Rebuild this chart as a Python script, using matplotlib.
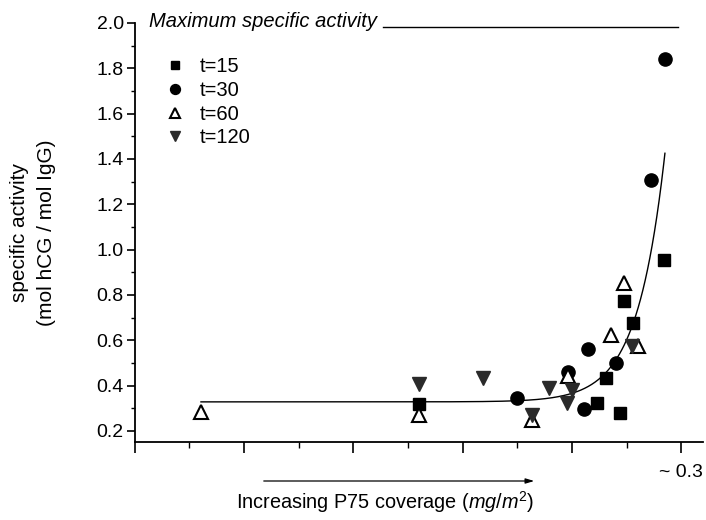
import matplotlib
matplotlib.use("Agg")
import matplotlib.pyplot as plt
import numpy as np
from matplotlib.ticker import MultipleLocator, FixedLocator

plt.rcParams['font.family'] = ['Liberation Sans', 'DejaVu Sans']
plt.rcParams['mathtext.fontset'] = 'custom'
plt.rcParams['mathtext.rm'] = 'Liberation Sans'
plt.rcParams['mathtext.it'] = 'Liberation Sans:italic'

# ---- data ----
t15_x = [0.156, 0.2538, 0.2587, 0.2665, 0.2687, 0.2736, 0.2907]
t15_y = [0.319, 0.324, 0.434, 0.280, 0.774, 0.677, 0.955]

t30_x = [0.210, 0.238, 0.2466, 0.249, 0.264, 0.2835, 0.291]
t30_y = [0.346, 0.460, 0.297, 0.562, 0.500, 1.307, 1.840]

t60_x = [0.0363, 0.156, 0.218, 0.238, 0.2615, 0.2687, 0.276]
t60_y = [0.284, 0.271, 0.250, 0.440, 0.624, 0.853, 0.575]

t120_x = [0.156, 0.191, 0.218, 0.2274, 0.237, 0.240, 0.273]
t120_y = [0.408, 0.434, 0.270, 0.390, 0.324, 0.381, 0.575]

# exponential growth fit: y = y0 + exp((x - xc) / tau)
fit_y0, fit_xc, fit_tau = 0.328, 0.2896, 0.01515
fit_xmin, fit_xmax = 0.0363, 0.291

max_activity = 1.98
max_line_x = (0.136, 0.298)

x_ticks = [0.0, 0.06, 0.12, 0.18, 0.24, 0.30]
x_ticklabels = ['', '', '', '', '', '~ 0.3']

fig = plt.figure(figsize=(7.06, 5.2), dpi=100)
ax = fig.add_axes([0.191, 0.15, 0.805, 0.806])

xs = np.linspace(fit_xmin, fit_xmax, 400)
ax.plot(xs, fit_y0 + np.exp((xs - fit_xc) / fit_tau), color='black', lw=1.0, zorder=1)

ax.plot(t15_x, t15_y, 's', color='black', ms=8, ls='none', label='t=15', zorder=3)
ax.plot(t30_x, t30_y, 'o', color='black', ms=9.5, ls='none', label='t=30', zorder=3)
ax.plot(t60_x, t60_y, '^', mfc='white', mec='black', mew=1.5, ms=10, ls='none', label='t=60', zorder=3)
ax.plot(t120_x, t120_y, 'v', color='#2a2a2a', ms=10, ls='none', label='t=120', zorder=3)

ax.plot(max_line_x, [max_activity, max_activity], color='black', lw=1.0, clip_on=False)
ax.text(0.0077, max_activity, 'Maximum specific activity', style='italic',
        fontsize=14.5, va='baseline', ha='left', clip_on=False)

ax.set_xlim(0, 0.312)
ax.set_ylim(0.151, 2.0)

ax.xaxis.set_major_locator(FixedLocator(x_ticks))
ax.set_xticklabels(x_ticklabels)
ax.xaxis.set_minor_locator(MultipleLocator(0.03))
ax.yaxis.set_major_locator(MultipleLocator(0.2))
ax.yaxis.set_minor_locator(MultipleLocator(0.1))
ax.yaxis.set_major_formatter(matplotlib.ticker.FormatStrFormatter('%.1f'))

ax.tick_params(axis='both', which='major', direction='out', labelsize=14, width=1.2)
ax.tick_params(axis='y', which='major', length=6, pad=2)
ax.tick_params(axis='y', which='minor', length=3, width=1.0)
ax.tick_params(axis='x', which='major', length=8, pad=8)
ax.tick_params(axis='x', which='minor', length=4, width=1.0)

for s in ['top', 'right']:
    ax.spines[s].set_visible(False)
for s in ['left', 'bottom']:
    ax.spines[s].set_linewidth(1.3)

ax.set_ylabel('specific activity\n(mol hCG / mol IgG)', fontsize=15, labelpad=29, linespacing=1.55)

leg = ax.legend(loc='upper left', bbox_to_anchor=(0.038, 0.938), frameon=False, fontsize=14.5,
                markerscale=0.75, handlelength=1.0, handletextpad=0.73, labelspacing=0.24,
                borderaxespad=0.0)

fig.text(0.545, 0.035, 'Increasing P75 coverage ($\\mathit{mg/m}^2$)', fontsize=14.3,
         ha='center', va='center')
ax.annotate('', xy=(537 / 706, 39 / 520), xytext=(261 / 706, 39 / 520),
            xycoords='figure fraction', textcoords='figure fraction',
            arrowprops=dict(arrowstyle='-|>,head_length=0.5,head_width=0.15', color='black', lw=0.9))

fig.savefig('out.png', dpi=100)
